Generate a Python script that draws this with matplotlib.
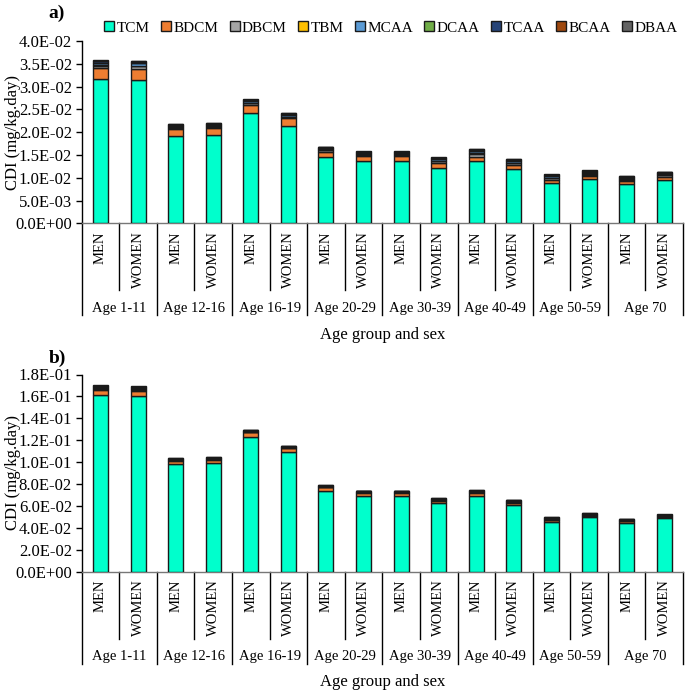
import matplotlib
matplotlib.use("Agg")
import matplotlib.pyplot as plt
import numpy as np
from matplotlib.ticker import FuncFormatter, MultipleLocator

plt.rcParams['font.family'] = ['Liberation Serif', 'DejaVu Serif']

groups = ["Age 1-11", "Age 12-16", "Age 16-19", "Age 20-29", "Age 30-39", "Age 40-49", "Age 50-59", "Age 70"]
sexes = ["MEN", "WOMEN"]
compounds = ["TCM", "BDCM", "DBCM", "TBM", "MCAA", "DCAA", "TCAA", "BCAA", "DBAA"]
colors = ["#00FFCC", "#ED7D31", "#A5A5A5", "#FFC000", "#5B9BD5", "#70AD47", "#264478", "#9E480E", "#636363"]

# Panel a values
TCM_a = [0.0316, 0.0314, 0.0191, 0.0193, 0.0241, 0.0213, 0.0145, 0.0136, 0.0136, 0.0122, 0.0136, 0.0119, 0.0089, 0.0097, 0.0086, 0.0094]
BDCM_a = [0.0024, 0.0025, 0.0016, 0.0016, 0.0019, 0.0017, 0.0012, 0.0011, 0.0011, 0.0011, 0.0010, 0.0010, 0.0007, 0.0007, 0.0007, 0.0008]
DBCM_a = [0.0006, 0.0006, 0.0003, 0.0003, 0.0004, 0.0003, 0.0003, 0.0003, 0.0003, 0.0003, 0.0007, 0.0003, 0.0003, 0.0003, 0.0003, 0.0003]
TBM_a = [0.0001, 0.0001, 0.0001, 0.0001, 0.0001, 0.0001, 0.0001, 0.0001, 0.0001, 0.0001, 0.0001, 0.0001, 0.0001, 0.0001, 0.0001, 0.0001]
MCAA_a = [0.0005, 0.0005, 0.0003, 0.0003, 0.0003, 0.0003, 0.0003, 0.0003, 0.0003, 0.0003, 0.0004, 0.0003, 0.0003, 0.0003, 0.0003, 0.0003]
DCAA_a = [0.00005, 0.00005, 0.00005, 0.00005, 0.00005, 0.00005, 0.00005, 0.00005, 0.00005, 0.00005, 0.00005, 0.00005, 0.00005, 0.00005, 0.00005, 0.00005]
TCAA_a = [0.0003, 0.0003, 0.0002, 0.0002, 0.0002, 0.0003, 0.0002, 0.0002, 0.0002, 0.0002, 0.0003, 0.0003, 0.0002, 0.0003, 0.0002, 0.0002]
BCAA_a = [0.0001, 0.0001, 0.0001, 0.0001, 0.0001, 0.0001, 0.0001, 0.0001, 0.0001, 0.0001, 0.0001, 0.0001, 0.0001, 0.0001, 0.0001, 0.0001]
DBAA_a = [0.0001, 0.0001, 0.0001, 0.0001, 0.0001, 0.0001, 0.0001, 0.0001, 0.0001, 0.0001, 0.0001, 0.0001, 0.0001, 0.0001, 0.0001, 0.0001]

# Panel b values
TCM_b = [0.1613, 0.1604, 0.0980, 0.0989, 0.1232, 0.1090, 0.0739, 0.0690, 0.0693, 0.0623, 0.0693, 0.0610, 0.0455, 0.0495, 0.0443, 0.0486]
BDCM_b = [0.0043, 0.0046, 0.0030, 0.0031, 0.0040, 0.0036, 0.0031, 0.0030, 0.0027, 0.0025, 0.0027, 0.0020, 0.0015, 0.0015, 0.0017, 0.0014]
DBCM_b = [0.0010, 0.0010, 0.0006, 0.0006, 0.0005, 0.0005, 0.0004, 0.0005, 0.0004, 0.0005, 0.0005, 0.0005, 0.0005, 0.0005, 0.0004, 0.0004]
TBM_b = [0.0002, 0.0002, 0.0002, 0.0002, 0.0002, 0.0002, 0.0002, 0.0002, 0.0002, 0.0002, 0.0002, 0.0002, 0.0002, 0.0002, 0.0002, 0.0002]
MCAA_b = [0.0010, 0.0010, 0.0005, 0.0005, 0.0004, 0.0004, 0.0003, 0.0004, 0.0003, 0.0004, 0.0004, 0.0005, 0.0005, 0.0005, 0.0004, 0.0004]
DCAA_b = [0.0002, 0.0002, 0.0002, 0.0002, 0.0002, 0.0002, 0.0002, 0.0002, 0.0002, 0.0002, 0.0002, 0.0002, 0.0002, 0.0002, 0.0002, 0.0002]
TCAA_b = [0.0010, 0.0009, 0.0005, 0.0005, 0.0004, 0.0004, 0.0003, 0.0004, 0.0003, 0.0004, 0.0004, 0.0005, 0.0005, 0.0005, 0.0004, 0.0004]
BCAA_b = [0.0006, 0.0006, 0.0003, 0.0002, 0.0002, 0.0002, 0.0002, 0.0002, 0.0002, 0.0003, 0.0004, 0.0004, 0.0005, 0.0005, 0.0004, 0.0004]
DBAA_b = [0.0004, 0.0004, 0.0002, 0.0002, 0.0002, 0.0002, 0.0002, 0.0001, 0.0001, 0.0001, 0.0001, 0.0001, 0.0001, 0.0001, 0.0001, 0.0001]

series_a = [TCM_a, BDCM_a, DBCM_a, TBM_a, MCAA_a, DCAA_a, TCAA_a, BCAA_a, DBAA_a]
series_b = [TCM_b, BDCM_b, DBCM_b, TBM_b, MCAA_b, DCAA_b, TCAA_b, BCAA_b, DBAA_b]

W, H, DPI = 685, 691, 100
fig = plt.figure(figsize=(W / DPI, H / DPI), dpi=DPI)

AX_L, AX_R = 81.7, 683

def px_rect(left, top, right, bottom):
    return [left / W, 1 - bottom / H, (right - left) / W, (bottom - top) / H]

ax_a = fig.add_axes(px_rect(AX_L, 41, AX_R, 223.3))
ax_b = fig.add_axes(px_rect(AX_L, 374.5, AX_R, 571.5))

def draw_panel(ax, series, ymax, ystep, ax_h_px):
    x = np.arange(16)
    bottom = np.zeros(16)
    handles = []
    for name, vals, col in zip(compounds, series, colors):
        v = np.array(vals)
        b = ax.bar(x, v, width=0.4, bottom=bottom, color=col, edgecolor="#1a1a1a",
                   linewidth=1.0, label=name, zorder=3)
        handles.append(b)
        bottom = bottom + v
    ax.set_xlim(-0.5, 15.5)
    ax.set_ylim(0, ymax)
    ax.yaxis.set_major_locator(MultipleLocator(ystep))
    ax.yaxis.set_major_formatter(FuncFormatter(lambda v, p: f"{v:.1E}"))
    ax.tick_params(axis='y', direction='out', length=4, width=1, labelsize=12, pad=3)
    ax.set_xticks([])
    for s in ["top", "right"]:
        ax.spines[s].set_visible(False)
    ax.spines["left"].set_linewidth(1.0)
    ax.spines["bottom"].set_linewidth(1.0)
    ax.spines["bottom"].set_color("#777777")
    ax.set_ylabel("CDI (mg/kg.day)", fontsize=12)
    ax.yaxis.set_label_coords((21 - AX_L) / (AX_R - AX_L), 0.5)
    tr = ax.get_xaxis_transform()
    f = lambda px: -px / ax_h_px
    for k in range(16):
        ax.text(k, f(8), sexes[k % 2], rotation=90, ha='center', va='top',
                fontsize=10.5, transform=tr)
    for g, name in enumerate(groups):
        ax.text(2 * g + 0.5, f(85), name, ha='center', va='center', fontsize=10.5, transform=tr)
    for g in range(8):
        ax.plot([2 * g + 0.5, 2 * g + 0.5], [0, f(67)], color='black', lw=1.0,
                transform=tr, clip_on=False)
    for g in range(9):
        ax.plot([2 * g - 0.5, 2 * g - 0.5], [0, f(92)], color='black', lw=1.0,
                transform=tr, clip_on=False)
    return handles

h = draw_panel(ax_a, series_a, 0.04, 0.005, 182.3)
draw_panel(ax_b, series_b, 0.18, 0.02, 197.0)

ax_a.text(0.5, -112 / 182.3, "Age group and sex", transform=ax_a.transAxes,
          ha='center', va='center', fontsize=12)
ax_b.text(0.5, -110 / 197.0, "Age group and sex", transform=ax_b.transAxes,
          ha='center', va='center', fontsize=12)

fig.text(57 / W, 1 - 13 / H, "a)", fontsize=14, fontweight='bold', ha='center', va='center')
fig.text(57 / W, 1 - 358 / H, "b)", fontsize=14, fontweight='bold', ha='center', va='center')

leg = fig.legend(h, compounds, loc='center', bbox_to_anchor=(391 / W, 1 - 28 / H), ncol=9,
                 frameon=False, fontsize=11, handlelength=0.65, handleheight=0.65,
                 handletextpad=0.15, columnspacing=0.75, borderaxespad=0, borderpad=0)

fig.savefig("out.png", dpi=DPI)
